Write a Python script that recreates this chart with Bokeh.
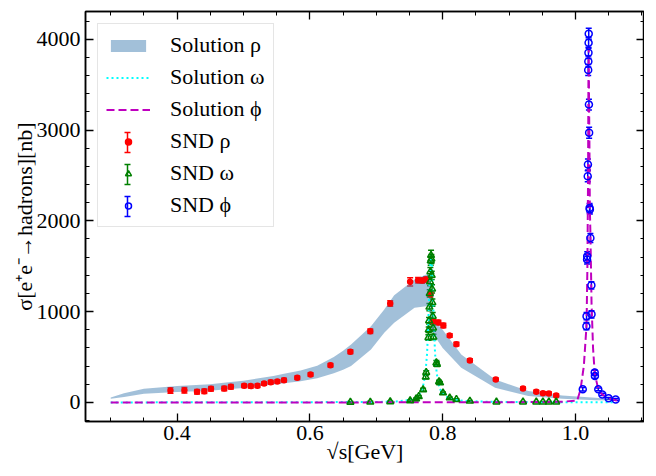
import numpy as np
from bokeh.plotting import figure
from bokeh.models import (ColumnDataSource, Whisker, TeeHead, Legend, LegendItem,
                          FixedTicker, LinearAxis, Range1d, CustomJSTickFormatter)
from bokeh.embed import file_html
from bokeh.resources import INLINE

# ---------------- data ----------------
# rho band (fit solution)
band_x = [0.300, 0.320, 0.350, 0.400, 0.450, 0.470, 0.500, 0.545, 0.561, 0.586, 0.611,
          0.636, 0.650, 0.662, 0.692, 0.712, 0.727, 0.7576, 0.775, 0.7805, 0.7815,
          0.7830, 0.788, 0.800, 0.828, 0.879, 0.929, 0.980, 1.030, 1.060]
band_lo = [40, 60, 95, 114, 130, 143, 160, 198, 212, 232, 265,
           320, 360, 400, 583, 767, 877, 1042, 1060, 1075, 950,
           790, 729, 600, 381, 161, 70, 40, 25, 20]
band_hi = [55, 100, 150, 180, 200, 216, 240, 290, 315, 352, 405,
           500, 570, 638, 840, 1023, 1180, 1353, 1408, 1420, 1300,
           960, 894, 800, 528, 253, 125, 75, 51, 35]

# omega solution (dotted)
omega_x = [0.30, 0.50, 0.60, 0.65, 0.70, 0.73, 0.75, 0.76, 0.765, 0.770, 0.774, 0.7765,
           0.778, 0.7795, 0.781, 0.7825, 0.784, 0.7855, 0.787, 0.7885, 0.791, 0.795,
           0.800, 0.805, 0.815, 0.83, 0.86, 0.90, 0.95, 1.00, 1.06]
omega_y = [0, 2, 3, 4, 5, 10, 27, 56, 90, 160, 320, 540,
           810, 1150, 1480, 1620, 1480, 1150, 810, 540, 320, 160,
           95, 65, 35, 18, 9, 5, 3, 2, 1]

# phi solution (dashed)
phi_x = [0.300, 0.600, 0.900, 0.980, 1.0026, 1.0076, 1.0126, 1.0167, 1.0180, 1.0190,
         1.0195, 1.0200, 1.0205, 1.0210, 1.0217, 1.0227, 1.0242, 1.0265, 1.0290,
         1.0345, 1.0405, 1.0500, 1.0600, 1.0680]
phi_y = [0, 0, 2, 8, 20, 140, 400, 850, 1500, 2500,
         3500, 3900, 3300, 2900, 2130, 1800, 1100, 600, 320,
         140, 85, 45, 25, 15]

# SND rho data
rho_x = [0.390, 0.411, 0.430, 0.441, 0.451, 0.471, 0.481, 0.501, 0.511, 0.521, 0.531,
         0.541, 0.551, 0.561, 0.581, 0.601, 0.631, 0.661, 0.691, 0.721, 0.751, 0.763,
         0.769, 0.775, 0.7815, 0.786, 0.7935, 0.801, 0.8106, 0.8207, 0.841, 0.880,
         0.921, 0.941, 0.951, 0.960, 0.971]
rho_y = [132, 135, 118, 124, 150, 154, 172, 184, 180, 184, 209,
         223, 231, 245, 272, 308, 410, 558, 784, 1089, 1328, 1346,
         1342, 1353, 1190, 890, 880, 847, 737, 642, 463, 253,
         154, 118, 102, 99, 77]
rho_err = [30, 30, 25, 25, 25, 25, 25, 20, 20, 20, 20,
           20, 20, 20, 20, 20, 20, 22, 25, 30, 45, 30,
           30, 30, 30, 25, 25, 25, 20, 20, 18, 15,
           15, 15, 15, 15, 15]

# SND omega data
om_x = [0.661, 0.691, 0.721, 0.751, 0.760, 0.764, 0.7705, 0.7745, 0.7752, 0.7785, 0.779,
        0.7795, 0.7800, 0.7805, 0.7810, 0.7815, 0.7820, 0.7825, 0.7830, 0.7835, 0.7840,
        0.7845, 0.7850, 0.7855, 0.7860, 0.7905, 0.7915, 0.7945, 0.7960, 0.8005, 0.8106,
        0.8207, 0.841, 0.881, 0.921, 0.941, 0.951, 0.960, 0.971]
om_y = [3, 4, 8, 20, 40, 65, 140, 280, 330, 715, 800,
        900, 1050, 1200, 1330, 1440, 1560, 1620, 1580, 1400, 1250,
        1100, 950, 820, 720, 437, 420, 228, 216, 106, 51,
        33, 15, 5, 5, 5, 5, 5, 5]
om_err = [8, 8, 8, 10, 10, 12, 15, 20, 20, 30, 30,
          35, 40, 40, 45, 45, 50, 55, 50, 45, 45,
          40, 40, 35, 30, 25, 25, 15, 15, 10, 8,
          8, 6, 5, 5, 5, 5, 5, 5]

# SND phi data
ph_x = [1.0110, 1.0165, 1.0167, 1.0175, 1.0177, 1.0185, 1.0188, 1.0192, 1.0194, 1.0196,
        1.0198, 1.0200, 1.0203, 1.0206, 1.0213, 1.0217, 1.0225, 1.0240, 1.0242, 1.0290,
        1.0293, 1.0344, 1.0405, 1.0500, 1.0606]
ph_y = [145, 840, 950, 1575, 1610, 2490, 2620, 3660, 3755, 3850,
        3960, 4060, 3280, 2970, 2140, 2125, 1810, 1290, 970, 330,
        290, 145, 88, 45, 33]
ph_err = [20, 40, 40, 50, 50, 60, 60, 60, 60, 60,
          60, 60, 60, 60, 50, 50, 50, 40, 40, 25,
          25, 15, 12, 10, 10]

x_ticks = [0.4, 0.6, 0.8, 1.0]
x_minor = [0.30, 0.35, 0.40, 0.45, 0.50, 0.55, 0.60, 0.65, 0.70, 0.75, 0.80, 0.85,
           0.90, 0.95, 1.00, 1.05, 1.10]
y_ticks = [0, 1000, 2000, 3000, 4000]
y_minor = [-200, 0, 200, 400, 600, 800, 1000, 1200, 1400, 1600, 1800, 2000, 2200,
           2400, 2600, 2800, 3000, 3200, 3400, 3600, 3800, 4000, 4200]

legend_labels = ["Solution ρ", "Solution ω", "Solution ϕ", "SND ρ", "SND ω", "SND ϕ"]
x_label = "√s[GeV]"
y_label = "σ[e⁺e⁻→hadrons][nb]"

FONT = "Liberation Serif"
FS = "22px"
W, H = 644, 474
B_TOP, B_BOT, B_LEFT = 11, 53, 85

p = figure(width=W, height=H, output_backend="svg", toolbar_location=None,
           x_range=Range1d(0.262, 1.104), y_range=Range1d(-210, 4305),
           min_border_left=B_LEFT, min_border_right=0, min_border_top=B_TOP,
           min_border_bottom=B_BOT, x_axis_label=x_label, y_axis_label=y_label)
p.grid.visible = False
p.outline_line_color = "black"
p.outline_line_width = 1.5
p.background_fill_color = "white"
p.border_fill_color = "white"

# top / right mirrored tick axes (ticks only)
p.add_layout(LinearAxis(), "above")
p.add_layout(LinearAxis(), "right")

for ax in p.xaxis:
    ax.ticker = FixedTicker(ticks=x_ticks, minor_ticks=x_minor)
for ax in p.yaxis:
    ax.ticker = FixedTicker(ticks=y_ticks, minor_ticks=y_minor)

for ax in p.axis:
    ax.axis_line_color = "black"
    ax.axis_line_width = 1.5
    ax.major_tick_in = 8
    ax.major_tick_out = 0
    ax.minor_tick_in = 4
    ax.minor_tick_out = 0
    ax.major_tick_line_width = 1.3
    ax.minor_tick_line_width = 1.0
    ax.major_tick_line_color = "black"
    ax.minor_tick_line_color = "black"
    ax.major_label_text_font = FONT
    ax.major_label_text_font_size = FS
    ax.major_label_text_color = "black"
    ax.axis_label_text_font = FONT
    ax.axis_label_text_font_size = FS
    ax.axis_label_text_font_style = "normal"
    ax.axis_label_text_color = "black"

for ax in (p.above[0], p.right[0]):
    ax.formatter = CustomJSTickFormatter(code="return ''")
    ax.major_label_text_font_size = "1px"
    ax.major_label_standoff = 0
    ax.axis_label = None

p.below[0].formatter = CustomJSTickFormatter(code="return tick.toFixed(1)")
p.below[0].major_label_standoff = 4
p.below[0].axis_label_standoff = -4
p.left[0].major_label_standoff = 5
p.left[0].axis_label_standoff = -3

frame_h = H - B_TOP - B_BOT

# band
band_r = p.varea(x=band_x, y1=band_lo, y2=band_hi, fill_color="steelblue", fill_alpha=0.5)

# solution curves
om_line = p.line(omega_x, omega_y, line_color="#00FFFF", line_dash="2 3", line_width=2)
ph_line = p.line(phi_x, phi_y, line_color="#BF00BF", line_dash="8 4", line_width=2)

def errdata(x, y, e, color, marker, size, fill):
    src = ColumnDataSource(dict(x=x, y=y,
                                lower=[a - b for a, b in zip(y, e)],
                                upper=[a + b for a, b in zip(y, e)]))
    w = Whisker(source=src, base="x", lower="lower", upper="upper",
                line_color=color, line_width=1.5,
                upper_head=TeeHead(size=6, line_color=color, line_width=1.5),
                lower_head=TeeHead(size=6, line_color=color, line_width=1.5))
    p.add_layout(w)
    sc = p.scatter("x", "y", source=src, marker=marker, size=size, line_color=color,
                   fill_color=fill, line_width=1.5)
    return sc

rho_r = errdata(rho_x, rho_y, rho_err, "#FF0000", "circle", 5, "#FF0000")
omd_r = errdata(om_x, om_y, om_err, "#008000", "triangle", 7, None)
phd_r = errdata(ph_x, ph_y, ph_err, "#0000FF", "circle", 7, None)

renderers = [band_r, om_line, ph_line, rho_r, omd_r, phd_r]
LEG_MARGIN, LEG_PAD, ROW_H, ROW_SP, GLYPH_W, GLYPH_H = 12, 8, 26, 6, 44, 15
legend = Legend(items=[LegendItem(label=l, renderers=[r])
                       for l, r in zip(legend_labels, renderers)],
                location="top_left")
legend.label_text_font = FONT
legend.label_text_font_size = FS
legend.label_text_color = "black"
legend.glyph_width = GLYPH_W
legend.glyph_height = GLYPH_H
legend.label_height = ROW_H
legend.spacing = ROW_SP
legend.padding = LEG_PAD
legend.label_standoff = 20
legend.margin = LEG_MARGIN
legend.border_line_color = "#cccccc"
legend.border_line_width = 1
legend.background_fill_alpha = 0.0
p.add_layout(legend)

# vertical error-bar symbols for the SND legend entries (screen units)
gx = LEG_MARGIN + LEG_PAD + GLYPH_W / 2
for i, color in zip([3, 4, 5], ["#FF0000", "#008000", "#0000FF"]):
    cy = LEG_MARGIN + LEG_PAD + i * (ROW_H + ROW_SP) + ROW_H / 2 + 2
    yc = frame_h - cy
    lsrc = ColumnDataSource(dict(b=[gx], lo=[yc - 10], up=[yc + 10]))
    p.add_layout(Whisker(source=lsrc, base="b", lower="lo", upper="up", level="overlay",
                         base_units="screen", lower_units="screen", upper_units="screen",
                         line_color=color, line_width=1.5,
                         upper_head=TeeHead(size=6, line_color=color, line_width=1.5),
                         lower_head=TeeHead(size=6, line_color=color, line_width=1.5)))

open("out.html", "w").write(file_html(p, INLINE))
